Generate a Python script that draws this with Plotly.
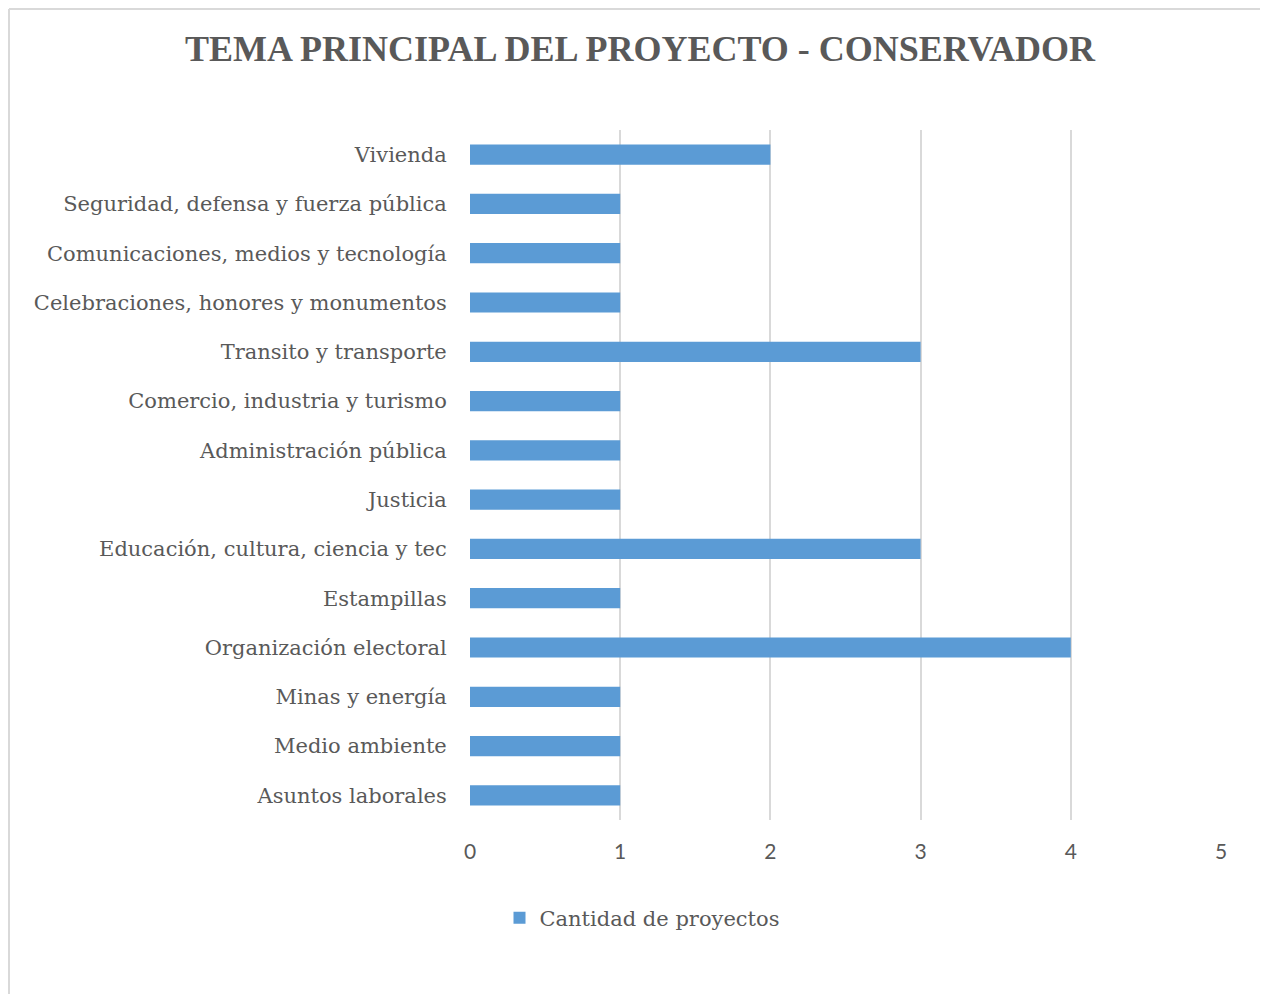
import plotly.graph_objects as go

categories = [
    "Vivienda",
    "Seguridad, defensa y fuerza pública",
    "Comunicaciones, medios y tecnología",
    "Celebraciones, honores y monumentos",
    "Transito y transporte",
    "Comercio, industria y turismo",
    "Administración pública",
    "Justicia",
    "Educación, cultura, ciencia y tec",
    "Estampillas",
    "Organización electoral",
    "Minas y energía",
    "Medio ambiente",
    "Asuntos laborales",
]
values = [2, 1, 1, 1, 3, 1, 1, 1, 3, 1, 4, 1, 1, 1]
series_name = "Cantidad de proyectos"
title_text = "TEMA PRINCIPAL DEL PROYECTO - CONSERVADOR"

OFF = 8  # default body margin of the page
W, H = 1268, 994
# target page positions
PL, PR, PT, PB = 470, 1221, 130, 820
L = PL - OFF
T = PT - OFF
R = W - (PR - OFF)
B = H - (PB - OFF)
pw, ph = W - L - R, H - T - B

def px_x(x):
    return (x - OFF - L) / pw

def px_y(y):
    return (H - B - (y - OFF)) / ph

fig = go.Figure()
fig.add_trace(go.Bar(
    x=values,
    y=categories,
    orientation="h",
    name=series_name,
    marker=dict(color="#5b9bd5", line=dict(width=0)),
    width=0.41,
    showlegend=True,
))

serif = "DejaVu Serif, serif"
fig.update_layout(
    width=W, height=H,
    margin=dict(l=L, r=R, t=T, b=B, autoexpand=False),
    paper_bgcolor="white",
    plot_bgcolor="white",
    title=dict(
        text="<b>" + title_text + "</b>",
        x=(640 - OFF) / W, xref="container", xanchor="center",
        y=1 - (48 - OFF) / H, yref="container", yanchor="middle",
        font=dict(family="Liberation Serif, serif", size=36, color="#595959"),
    ),
    xaxis=dict(
        range=[0, 5], tickvals=[0, 1, 2, 3, 4, 5],
        showgrid=True, gridcolor="#d9d9d9", gridwidth=2,
        zeroline=False, showline=False,
        ticks="outside", ticklen=13, tickcolor="rgba(0,0,0,0)",
        tickfont=dict(family="Lato, Liberation Sans, sans-serif", size=21, color="#595959"),
        fixedrange=True,
    ),
    yaxis=dict(
        categoryorder="array", categoryarray=categories[::-1],
        showgrid=False, zeroline=False, showline=False,
        ticks="outside", ticklen=18, tickcolor="rgba(0,0,0,0)",
        tickfont=dict(family=serif, size=21, color="#595959"),
        fixedrange=True,
    ),
    legend=dict(
        orientation="h",
        x=px_x(642), xanchor="center",
        y=px_y(918), yanchor="middle",
        font=dict(family=serif, size=21, color="#595959"),
        itemsizing="constant",
    ),
    showlegend=True,
    bargap=0.59,
    shapes=[
        dict(type="line", xref="paper", yref="paper",
             x0=px_x(9), x1=px_x(1300), y0=px_y(9), y1=px_y(9),
             line=dict(color="#d9d9d9", width=2)),
        dict(type="line", xref="paper", yref="paper",
             x0=px_x(9), x1=px_x(9), y0=px_y(9), y1=px_y(1010),
             line=dict(color="#d9d9d9", width=2)),
    ],
)

fig.write_html("out.html")
